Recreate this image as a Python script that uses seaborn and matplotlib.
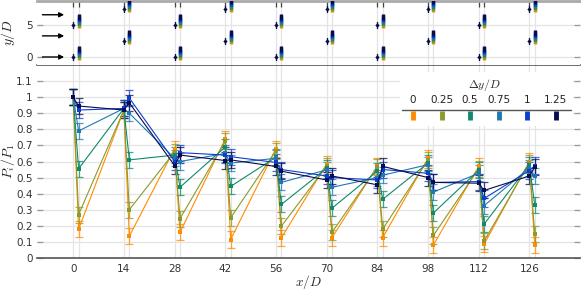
import numpy as np
import pandas as pd
import matplotlib
matplotlib.use("Agg")
import matplotlib.pyplot as plt
import seaborn as sns

## data

x_ref = [0, 14, 28, 42, 56, 70, 84, 98, 112, 126]
x_pos = [0, 1.5, 14, 15.5, 28, 29.5, 42, 43.5, 56, 57.5,
         70, 71.5, 84, 85.5, 98, 99.5, 112, 113.5, 126, 127.5]
x_shift = x_pos[1::2]

dy_labels = ["0", "0.25", "0.5", "0.75", "1", "1.25"]
dy_values = [0, 0.25, 0.5, 0.75, 1, 1.25]
colors = ["#ff8c00", "#8a9a2b", "#0e8a6c", "#1f78b4", "#0b3fd0", "#0b0b4f"]

p_00 = [1.0, 0.18, 0.92, 0.135, 0.68, 0.16, 0.74, 0.115, 0.68, 0.125,
        0.585, 0.127, 0.57, 0.127, 0.62, 0.08, 0.57, 0.085, 0.60, 0.08]
p_25 = [1.0, 0.27, 0.92, 0.30, 0.66, 0.245, 0.725, 0.25, 0.667, 0.198,
        0.57, 0.16, 0.565, 0.18, 0.61, 0.14, 0.555, 0.105, 0.59, 0.15]
p_50 = [1.0, 0.555, 0.93, 0.61, 0.64, 0.44, 0.69, 0.445, 0.627, 0.333,
        0.558, 0.31, 0.54, 0.365, 0.59, 0.28, 0.545, 0.21, 0.58, 0.33]
p_75 = [1.0, 0.79, 0.93, 0.90, 0.62, 0.60, 0.65, 0.59, 0.62, 0.47,
        0.548, 0.44, 0.50, 0.515, 0.58, 0.41, 0.527, 0.325, 0.56, 0.51]
p_100 = [1.0, 0.92, 0.93, 0.995, 0.60, 0.655, 0.64, 0.63, 0.594, 0.55,
         0.51, 0.50, 0.485, 0.55, 0.527, 0.47, 0.475, 0.37, 0.544, 0.575]
p_125 = [1.0, 0.945, 0.92, 0.965, 0.575, 0.64, 0.606, 0.61, 0.569, 0.54,
         0.485, 0.51, 0.455, 0.57, 0.50, 0.47, 0.465, 0.42, 0.51, 0.565]
err = 0.05

# turbine rows (y/D) for the even / odd columns, inflow arrows
rows_a = [0, 5]
rows_b = [2.5, 7.5]
arrow_y = [0, 3.3, 6.6]

y_ticks = [0, 0.1, 0.2, 0.3, 0.4, 0.5, 0.6, 0.7, 0.8, 0.9, 1, 1.1]
y_ticklabels = ["0", "0.1", "0.2", "0.3", "0.4", "0.5", "0.6", "0.7", "0.8", "0.9", "1", "1.1"]

series = [p_00, p_25, p_50, p_75, p_100, p_125]
df = pd.concat([pd.DataFrame({"x": x_pos, "P": p, "dy": lab})
                for p, lab in zip(series, dy_labels)], ignore_index=True)

## style

sns.set_style("whitegrid")
plt.rcParams["font.family"] = ["DejaVu Sans"]
plt.rcParams["mathtext.fontset"] = "cm"
plt.rcParams["xtick.color"] = "#333333"
plt.rcParams["ytick.color"] = "#333333"

grid_c = "#e4e4e4"
dark = colors[-1]

fig = plt.figure(figsize=(5.81, 2.90), dpi=100)
left, right = 37 / 581, 580 / 581
ax = fig.add_axes([left, 1 - 258 / 290, right - left, (258 - 65) / 290])
ax_top = fig.add_axes([left, 1 - 65 / 290, right - left, 64 / 290])

## bottom panel: power ratio

for lab, col in zip(dy_labels, colors):
    sub = df[df.dy == lab]
    ax.errorbar(sub.x, sub.P, yerr=err, fmt="none", ecolor=col, elinewidth=0.9,
                capsize=2.6, capthick=0.9, alpha=0.75, zorder=2)
sns.lineplot(data=df, x="x", y="P", hue="dy", palette=colors, marker="s",
             markersize=3.2, markeredgewidth=0, linewidth=0.8, estimator=None,
             sort=False, legend=False, ax=ax, zorder=3)

ax.set_xlim(-10, 140)
ax.set_ylim(0, 1.2)
ax.set_xticks(x_ref)
ax.set_xticklabels([str(v) for v in x_ref], fontsize=7.5)
ax.set_xticks(x_shift, minor=True)
ax.set_yticks(y_ticks)
ax.set_yticklabels(y_ticklabels, fontsize=7.5)
ax.grid(True, which="both", axis="x", color=grid_c, lw=0.9)
ax.grid(True, which="major", axis="y", color=grid_c, lw=0.9)
ax.tick_params(axis="x", which="both", direction="in", length=4, width=0.9,
               color="#444444", pad=4)
ax.tick_params(axis="y", direction="in", length=4, width=0.9, color="#999999",
               left=True, right=True, pad=3)
for s in ["left", "right"]:
    ax.spines[s].set_visible(False)
for s in ["bottom", "top"]:
    ax.spines[s].set_color("#555555")
    ax.spines[s].set_linewidth(1.2)
ax.set_xlabel("$x/D$", fontsize=9.5)
ax.xaxis.set_label_coords(0.5, -0.078)
ax.set_ylabel("$P_i/P_1$", fontsize=10)
ax.yaxis.set_label_coords(-0.036, 0.5)

## top panel: layout

for j, (xa, xb) in enumerate(zip(x_pos[0::2], x_pos[1::2])):
    rows = rows_a if j % 2 == 0 else rows_b
    for y0 in rows:
        ax_top.plot([xa, xa], [y0 - 0.5, y0 + 0.5], color=dark, lw=1.0, zorder=3)
        ax_top.scatter([xa], [y0], marker="D", s=5, color=dark, lw=0, zorder=4)
        for dy, col in zip(dy_values, colors):
            ax_top.plot([xb, xb], [y0 + dy - 0.5, y0 + dy + 0.5], color=col,
                        lw=2.4, solid_capstyle="butt", zorder=3)

for y in arrow_y:
    ax_top.annotate("", xy=(-2.5, y), xytext=(-8.5, y),
                    arrowprops=dict(arrowstyle="-|>", color="black", lw=1,
                                    mutation_scale=7, shrinkA=0, shrinkB=0))

ax_top.set_xlim(-10, 140)
ax_top.set_ylim(-1.25, 8.75)
ax_top.set_xticks(x_ref)
ax_top.set_xticks(x_shift, minor=True)
ax_top.set_yticks([0, 5])
ax_top.set_yticklabels(["0", "5"], fontsize=7.5)
ax_top.grid(True, which="both", axis="x", color=grid_c, lw=0.9)
ax_top.grid(True, which="major", axis="y", color=grid_c, lw=0.9)
ax_top.tick_params(axis="x", which="both", direction="in", length=4, width=0.9,
                   color="#444444", top=True, bottom=False, labelbottom=False)
ax_top.tick_params(axis="y", direction="in", length=4, width=0.9, color="#999999",
                   left=True, right=True, pad=3)
for s in ["left", "right", "bottom"]:
    ax_top.spines[s].set_visible(False)
ax_top.spines["top"].set_color("#aaaaaa")
ax_top.spines["top"].set_linewidth(2)
ax_top.set_ylabel("$y/D$", fontsize=10)
ax_top.yaxis.set_label_coords(-0.036, 0.5)

## legend

leg = fig.add_axes([400 / 581, 1 - 126 / 290, 173 / 581, 54 / 290])
leg.set_facecolor("white")
leg.set_xlim(0, 1)
leg.set_ylim(0, 1)
leg.set_xticks([])
leg.set_yticks([])
leg.grid(False)
for s in leg.spines.values():
    s.set_visible(False)
leg.text(0.49, 0.76, r"$\Delta y/D$", ha="center", va="center", fontsize=8.5)
for xl, lab, col in zip(np.linspace(0.075, 0.9, 6), dy_labels, colors):
    leg.text(xl, 0.48, lab, ha="center", va="center", fontsize=7.5, color="#222222")
    leg.plot([xl, xl], [0.12, 0.28], color=col, lw=3.5, solid_capstyle="butt")
leg.plot([0.01, 0.99], [0.3, 0.3], color="#555555", lw=1)

fig.savefig("out.png", dpi=100)
